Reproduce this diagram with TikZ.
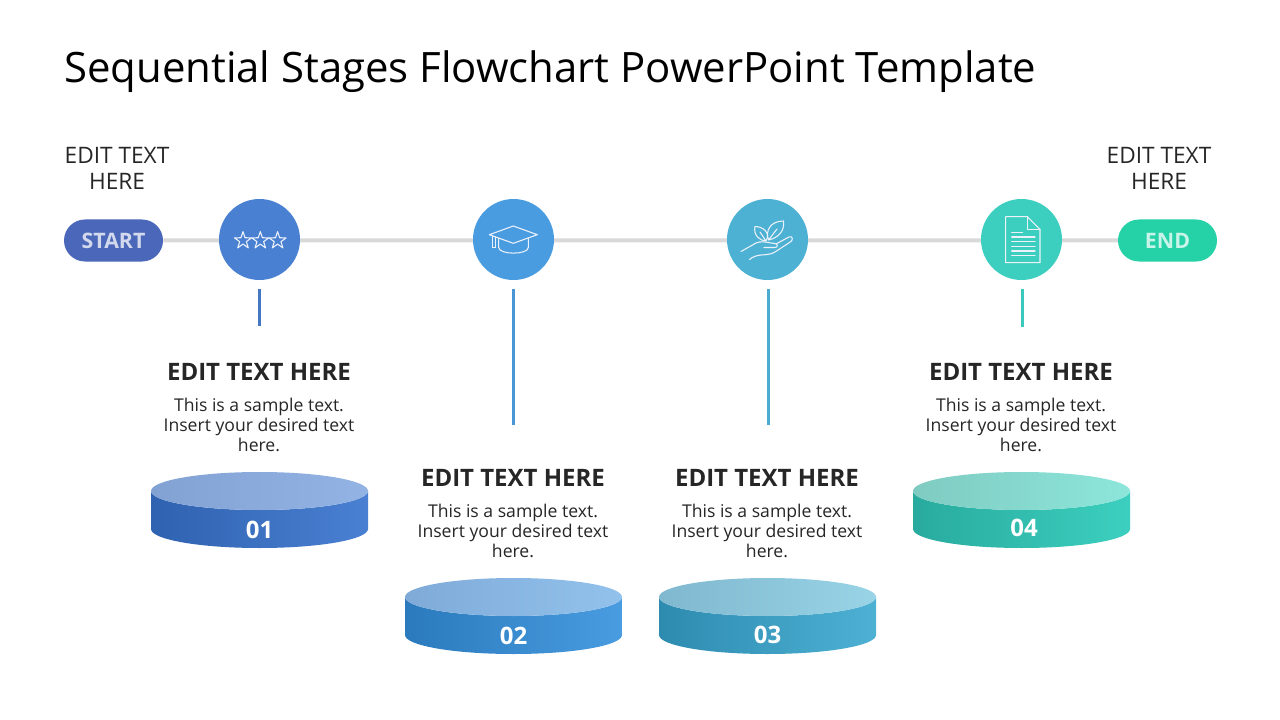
\documentclass[tikz,border=0pt]{standalone}
\usepackage{fontspec}
\setmainfont{Open Sans}
\usetikzlibrary{shapes.geometric,shapes.misc}
\definecolor{cStart}{HTML}{4B67B9}
\definecolor{cEnd}{HTML}{25D2A8}
\definecolor{cA}{HTML}{4A80D2}
\definecolor{cB}{HTML}{499CE0}
\definecolor{cC}{HTML}{4DB1D4}
\definecolor{cD}{HTML}{3CCFBF}
\definecolor{cAd}{HTML}{2F62B0}
\definecolor{cBd}{HTML}{2A7ABD}
\definecolor{cCd}{HTML}{2E8BB0}
\definecolor{cDd}{HTML}{28AB9E}
\definecolor{tAl}{HTML}{82A2D4}
\definecolor{tAr}{HTML}{92B3E4}
\definecolor{tBl}{HTML}{7FAAD8}
\definecolor{tBr}{HTML}{92C2EC}
\definecolor{tCl}{HTML}{80B8CF}
\definecolor{tCr}{HTML}{98D3E6}
\definecolor{tDl}{HTML}{7FCBC2}
\definecolor{tDr}{HTML}{8DE6DA}
\definecolor{ink}{HTML}{262626}
\definecolor{tickA}{HTML}{4578C4}
\definecolor{tickB}{HTML}{4896D6}
\definecolor{tickC}{HTML}{4BACCF}
\definecolor{tickD}{HTML}{3CC8BC}
\tikzset{
  pill/.style={rounded rectangle,minimum width=74.25pt,minimum height=31.5pt,inner sep=0pt,font=\fontsize{16}{19}\selectfont\bfseries},
  stagecircle/.style={circle,minimum size=60.75pt,inner sep=0pt},
  mainline/.style={draw=black!15,line width=3pt},
  tick/.style={line width=2.25pt},
  icon/.style={draw=white!90!cA,line width=0.8pt,line join=round,line cap=round},
  sidetext/.style={align=center,font=\fontsize{17}{19.5}\selectfont,text=ink},
  headtext/.style={font=\fontsize{18}{21}\selectfont\bfseries,text=ink},
  bodytext/.style={align=center,font=\fontsize{13.2}{15}\selectfont,text=ink},
  numtext/.style={font=\fontsize{18}{20}\selectfont\bfseries,text=white}
}
\newcommand{\stage}[7]{%
  \node[stagecircle,fill=#3] (c#1) at (#2,239.5) {};
  \coordinate (t#1) at (#7,#4);
  \coordinate (s#1) at (#7,289);
  \draw[tick,draw=tick#1] (s#1) -- (t#1);
  \node[headtext] (h#1) at (#2-0.5,#5) {EDIT TEXT HERE};
  \node[bodytext] (b#1) at (#2-0.5,#6) {This is a sample text.\\Insert your desired text\\here.};
}
\newcommand{\cyl}[9]{%
  \shade[left color=#4,right color=#5,shading angle=90,shading=axis]
    (#2-108.5,#3) -- (#2-108.5,#3+38) arc[start angle=180,end angle=360,x radius=108.5,y radius=-19] -- (#2+108.5,#3)
    arc[start angle=360,end angle=180,x radius=108.5,y radius=-19] -- cycle;
  \shade[left color=#6,right color=#7,shading angle=90,shading=axis]
    (#2,#3) ellipse[x radius=108.5,y radius=19];
  \node[numtext] (n#1) at #9 {#8};
}
\begin{document}
\begin{tikzpicture}[x=0.75pt,y=-0.75pt]
\useasboundingbox (0,0) rectangle (1280,720);
\fill[white] (0,0) rectangle (1280,720);
\node[anchor=west,inner sep=0pt,font=\fontsize{31.4}{38}\selectfont,text=black] (title) at (64,72) {Sequential Stages Flowchart PowerPoint Template};
\node[pill,fill=cStart,text=white!75!cStart] (start) at (113.5,240.5) {START};
\node[pill,fill=cEnd,text=white!75!cEnd] (end) at (1167.5,240.5) {END};
\draw[mainline] (start) -- (end);
\node[sidetext] (ls) at (117,168.5) {EDIT TEXT\\HERE};
\node[sidetext] (le) at (1159,168.5) {EDIT TEXT\\HERE};
\stage{A}{259.5}{cA}{326}{372}{424.5}{259.5}
\stage{B}{513.5}{cB}{425}{478}{530.5}{513.5}
\stage{C}{767.5}{cC}{425}{478}{530.5}{768.5}
\stage{D}{1021.5}{cD}{327}{372}{424.5}{1022.5}
\cyl{1}{259.5}{491}{cAd}{cA}{tAl}{tAr}{01}{(259.5,529.5)}
\cyl{2}{513.5}{597}{cBd}{cB}{tBl}{tBr}{02}{(513.5,635.5)}
\cyl{3}{767.5}{597}{cCd}{cC}{tCl}{tCr}{03}{(767.5,634.5)}
\cyl{4}{1021.5}{491}{cDd}{cD}{tDl}{tDr}{04}{(1024,527.5)}
% stars
\foreach \sx in {243,260.3,277.6}{
  \draw[icon] (\sx,231.6)
   \foreach \k in {1,...,9}{ -- ({\sx+(mod(\k,2)==1 ? 3.5 : 9)*sin(36*\k)},{240.6-(mod(\k,2)==1 ? 3.5 : 9)*cos(36*\k)}) } -- cycle;
}
% cap
\draw[icon] (489.3,234.7) -- (513.3,226) -- (537.3,234.7) -- (513.3,243.3) -- cycle;
\draw[icon] (498.7,238.5) -- (498.7,247.5) .. controls (499,255) and (528,255) .. (528.3,247.5) -- (528.3,238.5);
\draw[icon] (492.5,236) -- (492.5,247.5) (495.3,237) -- (495.3,247.5) (492.5,247.5) -- (495.3,247.5);
% plant
\draw[icon] (741,251.5) -- (756,243) .. controls (760,241) and (767,242) .. (771,243) -- (775,243.5) .. controls (778,244) and (778,247.5) .. (775,247.5) -- (764,247.5);
\draw[icon] (776,244) -- (789,237) .. controls (793,235.5) and (793,240) .. (791,241.5) -- (775,252) .. controls (768,256) and (761,254) .. (756,256) .. controls (753,257) and (751,258) .. (749.5,259.5);
\draw[icon] (766,241) .. controls (760,241) and (753,235) .. (755,226.5) .. controls (763,226.5) and (771,233) .. (766,241) -- (760,232);
\draw[icon] (768.5,240) .. controls (765,230) and (771,221) .. (783.5,221) .. controls (785,231) and (778,238) .. (768.5,240) -- (777,229);
% document
\draw[icon] (1027.3,216.7) -- (1005.7,216.7) -- (1005.7,262.7) -- (1040,262.7) -- (1040,229.3) -- cycle;
\draw[icon] (1027.3,216.7) -- (1027.3,229.3) -- (1040,229.3);
\draw[icon] (1011.7,232.3) -- (1022.7,232.3);
\foreach \ly in {237,241.7,246.3,251,255.7}{ \draw[icon] (1011.7,\ly) -- (1035,\ly); }
\end{tikzpicture}
\end{document}
